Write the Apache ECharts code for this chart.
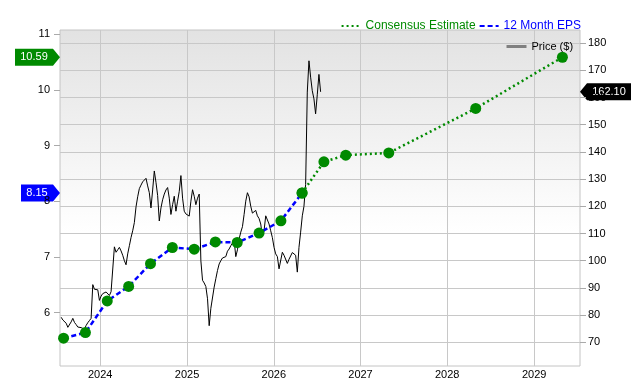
<!DOCTYPE html>
<html>
<head>
<meta charset="utf-8">
<script src="https://cdn.jsdelivr.net/npm/echarts@6/dist/echarts.min.js"></script>
<style>
html, body { margin: 0; padding: 0; background: #fff; }
#main { width: 640px; height: 380px; }
</style>
</head>
<body>
<div id="main"></div>
<script>
// 12个月每股收益（实际）
var epsDates = ['2023-07-31', '2023-10-31', '2024-01-31', '2024-04-30', '2024-07-31', '2024-10-31',
                '2025-01-31', '2025-04-30', '2025-07-31', '2025-10-31', '2026-01-31', '2026-04-30'];
var epsValues = [5.54, 5.64, 6.21, 6.47, 6.88, 7.17, 7.14, 7.27, 7.26, 7.43, 7.65, 8.15];

// 一致预期（从最后一个实际值接上）
var estDates = ['2026-04-30', '2026-07-31', '2026-10-31', '2027-04-30', '2028-04-30', '2029-04-30'];
var estValues = [8.15, 8.71, 8.83, 8.87, 9.67, 10.59];

// 周收盘价，从 2023-07-21 起每周一个
var priceStart = [2023, 6, 21];
var priceValues = [
    79.2, 78.2, 78.0, 77.0, 75.5, 75.0, 77.5, 78.8, 77.3, 76.5, 75.6, 75.6, 75.4, 75.2, 74.8, 76.2, 77.2, 78.0, 78.8,
    91.2, 89.5, 89.1, 89.3, 85.4, 87.0, 87.9, 88.0, 88.5, 88.6, 87.2, 88.6,
    88.5, 105.1, 103.1, 104.0, 104.9, 103.6, 102.0, 100.0, 98.5, 102.5, 105.5, 108.5, 111.0, 114.0, 119.8, 123.5,
    126.5, 127.8, 129.0, 129.7, 130.3, 127.5, 125.0, 119.4, 126.0, 133.0, 128.8, 124.0, 114.6, 119.4, 122.4, 124.5,
    126.0, 126.9, 123.0, 117.0, 120.6, 123.7, 118.2, 121.9, 125.5, 131.3, 123.0, 118.2, 117.2, 117.0, 116.4, 121.9,
    126.1, 123.7, 120.6, 123.0, 124.5,
    100.0, 92.8, 91.8, 90.5, 86.0, 76.1, 82.5, 83.0, 90.3, 93.4, 96.4, 98.8, 100.0, 101.0, 101.5, 101.5, 103.5,
    104.3, 105.5, 106.5, 107.5, 101.5, 104.0, 108.0, 110.5, 112.5, 117.0, 121.9, 125.0, 123.5, 120.0, 117.5, 117.0,
    118.5, 116.5, 115.5, 113.5, 109.0, 111.0, 116.5, 116.0, 113.5, 111.0, 108.5, 104.9, 102.5, 101.5, 97.0, 96.4,
    103.1, 102.0, 102.5, 99.0, 100.5, 100.0, 103.0, 103.4, 102.0, 95.8, 104.9, 110.5, 116.5, 120.0, 128.0, 162.0,
    173.5, 167.5, 162.5, 159.5, 154.0, 161.0, 168.5, 162.1
];

// 刻度
var yearTicks = ['2024-01-01', '2025-01-01', '2026-01-01', '2027-01-01', '2028-01-01', '2029-01-01'];
var epsTicks = [6, 7, 8, 9, 10, 11];
var priceTicks = [70, 80, 90, 100, 110, 120, 130, 140, 150, 160, 170, 180];

function ts(s) { return +new Date(s + 'T00:00:00'); }

var priceData = priceValues.map(function (v, i) {
    return [+new Date(priceStart[0], priceStart[1], priceStart[2] + 7 * i), v];
});
var epsData = epsDates.map(function (d, i) { return [ts(d), epsValues[i]]; });
var estData = estDates.map(function (d, i) { return [ts(d), estValues[i]]; });
var yearTickValues = yearTicks.map(ts);

var FONT = 'Liberation Sans, Arial, sans-serif';
var GREEN = '#008a00';
var BLUE = '#0000ff';

var myChart = echarts.init(document.getElementById('main'));

var option = {
    animation: false,
    textStyle: { fontFamily: FONT },
    grid: {
        left: 60, right: 60, top: 30, bottom: 10,
        show: true,
        borderColor: '#c4c4c4',
        borderWidth: 1,
        backgroundColor: new echarts.graphic.LinearGradient(0, 0, 0, 1, [
            { offset: 0, color: '#e2e2e2' },
            { offset: 0.6, color: '#ffffff' },
            { offset: 1, color: '#ffffff' }
        ])
    },
    legend: [{
        data: [
            { name: 'Consensus Estimate', textStyle: { color: GREEN } },
            { name: '12 Month EPS', textStyle: { color: BLUE } }
        ],
        right: 54, top: 15,
        itemWidth: 19, itemHeight: 10, itemGap: 3,
        itemStyle: { opacity: 0 },
        textStyle: { fontFamily: FONT, fontSize: 12 },
        selectedMode: false
    }, {
        data: ['Price ($)'],
        left: 500, top: 36,
        itemWidth: 20, itemHeight: 10, itemGap: 4,
        itemStyle: { opacity: 0 },
        lineStyle: { color: '#808080', width: 3 },
        textStyle: { fontFamily: FONT, fontSize: 11, color: '#000' },
        selectedMode: false
    }],
    xAxis: {
        type: 'value',
        min: ts('2023-07-16'),
        max: ts('2029-07-13'),
        axisLine: { show: false },
        axisTick: { show: false, customValues: yearTickValues },
        splitLine: { show: true, lineStyle: { color: '#c8c8c8', width: 1 } },
        axisLabel: {
            customValues: yearTickValues,
            margin: 3,
            fontSize: 11, color: '#000',
            formatter: function (v) { return String(new Date(v).getFullYear()); }
        }
    },
    yAxis: [{
        type: 'value',
        position: 'left',
        min: 5.04, max: 11.08,
        axisLine: { show: false },
        axisTick: { show: true, length: 6, customValues: epsTicks, lineStyle: { color: '#aaa' } },
        axisLabel: { customValues: epsTicks, margin: 10, fontSize: 11, color: '#000' },
        splitLine: { show: false }
    }, {
        type: 'value',
        position: 'right',
        min: 61.28, max: 184.83,
        axisLine: { show: false },
        axisTick: { show: true, length: 6, customValues: priceTicks, lineStyle: { color: '#aaa' } },
        axisLabel: { customValues: priceTicks, margin: 8, fontSize: 11, color: '#000' },
        splitLine: { show: true, lineStyle: { color: '#c8c8c8', width: 1 } }
    }],
    series: [{
        name: 'Price ($)',
        type: 'line',
        yAxisIndex: 1,
        data: priceData,
        symbol: 'none',
        lineStyle: { color: '#000', width: 1 },
        itemStyle: { color: '#000' },
        z: 2
    }, {
        name: 'Consensus Estimate',
        type: 'line',
        yAxisIndex: 0,
        data: estData,
        symbol: 'circle',
        symbolSize: 11,
        lineStyle: { color: GREEN, width: 2.5, type: [2, 3] },
        itemStyle: { color: GREEN },
        z: 3
    }, {
        name: '12 Month EPS',
        type: 'line',
        yAxisIndex: 0,
        data: epsData,
        symbol: 'circle',
        symbolSize: 11,
        lineStyle: { color: BLUE, width: 2.5, type: [5, 3] },
        itemStyle: { color: GREEN },
        z: 4
    }]
};

myChart.setOption(option);

// 轴上的数值标签
var ctx = document.createElement('canvas').getContext('2d');
ctx.font = '11px ' + FONT;
function tag(side, y, text, color) {
    var w = Math.ceil(ctx.measureText(text).width) + 10;
    var h = 17, tip = 7, pts, tx;
    if (side === 'left') {
        var x1 = 60;
        pts = [[x1 - tip - w, y - h / 2], [x1 - tip, y - h / 2], [x1, y], [x1 - tip, y + h / 2], [x1 - tip - w, y + h / 2]];
        tx = x1 - tip - w / 2;
    } else {
        var x0 = 580;
        pts = [[x0, y], [x0 + tip, y - h / 2], [x0 + tip + w, y - h / 2], [x0 + tip + w, y + h / 2], [x0 + tip, y + h / 2]];
        tx = x0 + tip + w / 2;
    }
    return {
        type: 'group', z: 100,
        children: [{
            type: 'polygon', shape: { points: pts }, style: { fill: color }
        }, {
            type: 'text', x: tx, y: y,
            style: { text: text, fill: '#fff', font: '11px ' + FONT, align: 'center', verticalAlign: 'middle' }
        }]
    };
}

var lastEst = estValues[estValues.length - 1];
var lastEps = epsValues[epsValues.length - 1];
var lastPrice = priceValues[priceValues.length - 1];
myChart.setOption({
    graphic: [
        tag('left', myChart.convertToPixel({ yAxisIndex: 0 }, lastEst), lastEst.toFixed(2), GREEN),
        tag('left', myChart.convertToPixel({ yAxisIndex: 0 }, lastEps), lastEps.toFixed(2), BLUE),
        tag('right', myChart.convertToPixel({ yAxisIndex: 1 }, lastPrice), lastPrice.toFixed(2), '#000')
    ]
});
</script>
</body>
</html>
